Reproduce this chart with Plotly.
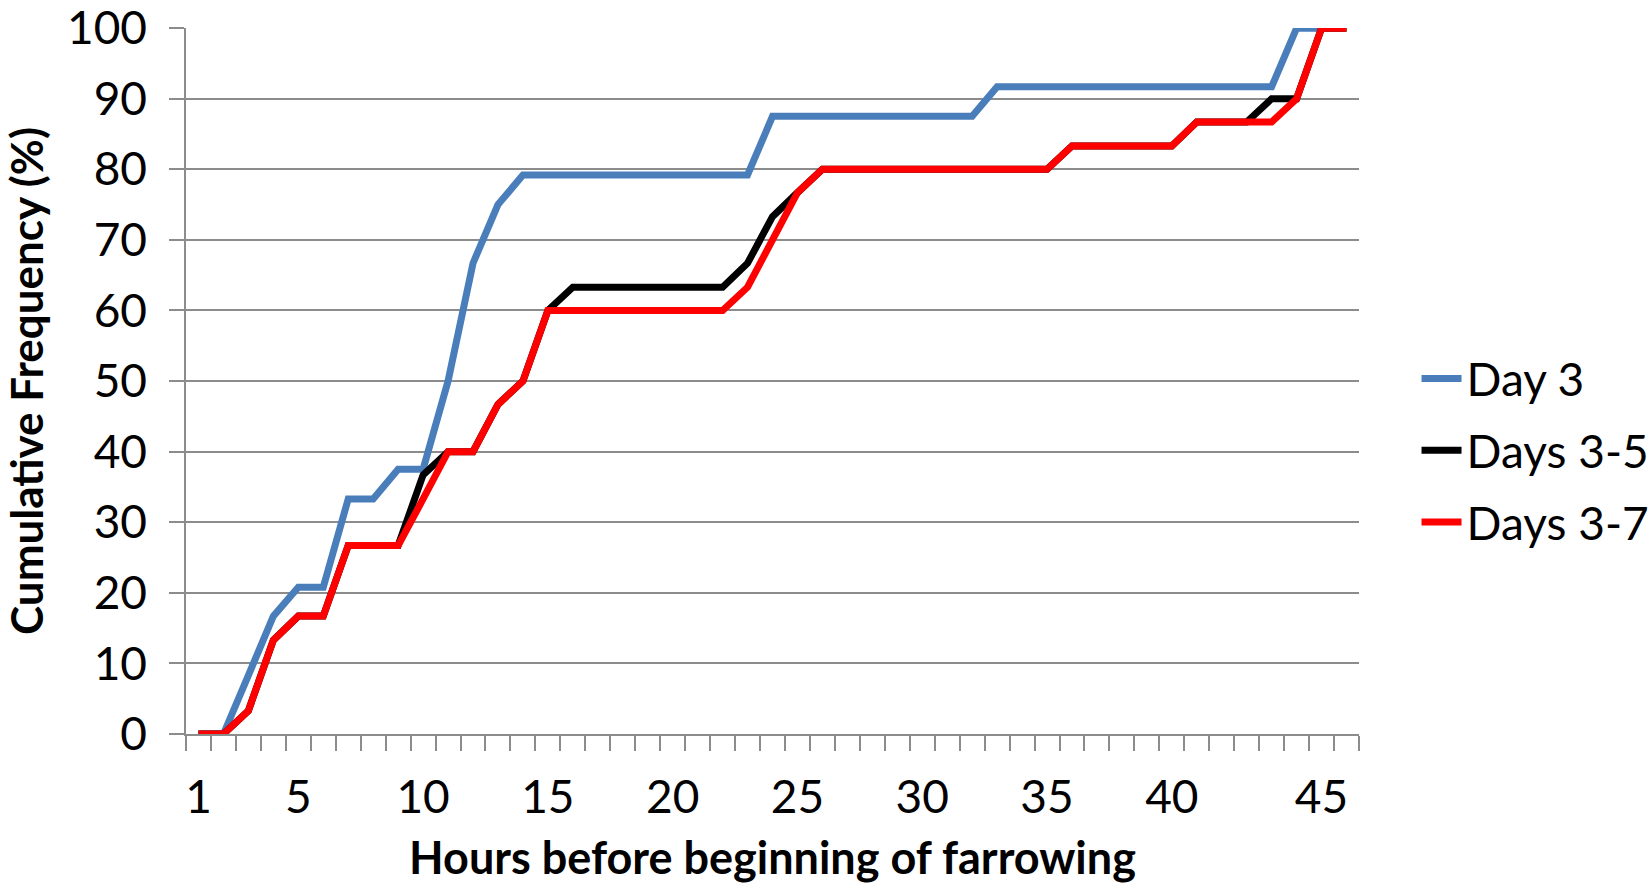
import plotly.graph_objects as go

# Category positions (hours) and their axis labels
positions = list(range(1, 48))
tick_positions = [1, 5, 10, 15, 20, 25, 30, 35, 40, 46]
tick_labels = ["1", "5", "10", "15", "20", "25", "30", "35", "40", "45"]

day3 = [0, 0, 8.3, 16.7, 20.8, 20.8, 33.3, 33.3, 37.5, 37.5,
        50, 66.7, 75, 79.2, 79.2, 79.2, 79.2, 79.2, 79.2, 79.2,
        79.2, 79.2, 79.2, 87.5, 87.5, 87.5, 87.5, 87.5, 87.5, 87.5,
        87.5, 87.5, 91.7, 91.7, 91.7, 91.7, 91.7, 91.7, 91.7, 91.7,
        91.7, 91.7, 91.7, 91.7, 100, 100]

days3_5 = [0, 0, 3.3, 13.3, 16.7, 16.7, 26.7, 26.7, 26.7, 36.7,
           40, 40, 46.7, 50, 60, 63.3, 63.3, 63.3, 63.3, 63.3,
           63.3, 63.3, 66.7, 73.3, 76.7, 80, 80, 80, 80, 80,
           80, 80, 80, 80, 80, 83.3, 83.3, 83.3, 83.3, 83.3,
           86.7, 86.7, 86.7, 90, 90, 100, 100]

days3_7 = [0, 0, 3.3, 13.3, 16.7, 16.7, 26.7, 26.7, 26.7, 33.3,
           40, 40, 46.7, 50, 60, 60, 60, 60, 60, 60,
           60, 60, 63.3, 70, 76.7, 80, 80, 80, 80, 80,
           80, 80, 80, 80, 80, 83.3, 83.3, 83.3, 83.3, 83.3,
           86.7, 86.7, 86.7, 86.7, 90, 100, 100]

y_ticks = list(range(0, 101, 10))

series = [
    ("Day 3", day3, "#4A7EBB"),
    ("Days 3-5", days3_5, "#000000"),
    ("Days 3-7", days3_7, "#FF0000"),
]

FONT = "Lato"
GRID = "#8C8C8C"

fig = go.Figure()
for name, vals, color in series:
    fig.add_trace(go.Scatter(
        x=positions[:len(vals)], y=vals, mode="lines", name=name,
        legendgroup=name,
        line=dict(color=color, width=7),
    ))

n_cat = len(positions)
boundaries = [k + 0.5 for k in range(0, n_cat + 1)]

fig.update_layout(
    width=1650, height=884,
    margin=dict(l=186, r=291, t=28, b=150, autoexpand=False),
    paper_bgcolor="white", plot_bgcolor="white",
    font=dict(family=FONT, size=46, color="black"),
    showlegend=True,
    legend=dict(
        xref="container", yref="container",
        x=0.8585, xanchor="left", y=0.4904, yanchor="middle",
        font=dict(family=FONT, size=46, color="black"),
        tracegroupgap=9, itemwidth=40,
        bgcolor="rgba(0,0,0,0)",
    ),
    xaxis=dict(
        range=[0.5, n_cat + 0.5],
        tickmode="array", tickvals=tick_positions, ticktext=tick_labels,
        ticks="", showgrid=False, zeroline=False,
        showline=True, linecolor=GRID, linewidth=1.5,
        ticklabelstandoff=22,
        tickfont=dict(family=FONT, size=46),
        minor=dict(tickmode="array", tickvals=boundaries, ticks="outside",
                   ticklen=15, tickcolor=GRID, tickwidth=1.5, showgrid=False),
        title=dict(text="<b>Hours before beginning of farrowing</b>",
                   font=dict(family=FONT, size=45), standoff=36),
    ),
    yaxis=dict(
        range=[0, 100.02],
        tickmode="array", tickvals=y_ticks,
        ticks="outside", ticklen=15, tickcolor=GRID, tickwidth=1.5,
        showgrid=True, gridcolor=GRID, gridwidth=1.5,
        zeroline=False,
        showline=True, linecolor=GRID, linewidth=1.5,
        ticklabelstandoff=13, ticklabeloverflow="allow",
        tickfont=dict(family=FONT, size=46),
        title=dict(text="<b>Cumulative Frequency (%)</b>",
                   font=dict(family=FONT, size=44), standoff=23),
    ),
)

fig.write_html("out.html")
